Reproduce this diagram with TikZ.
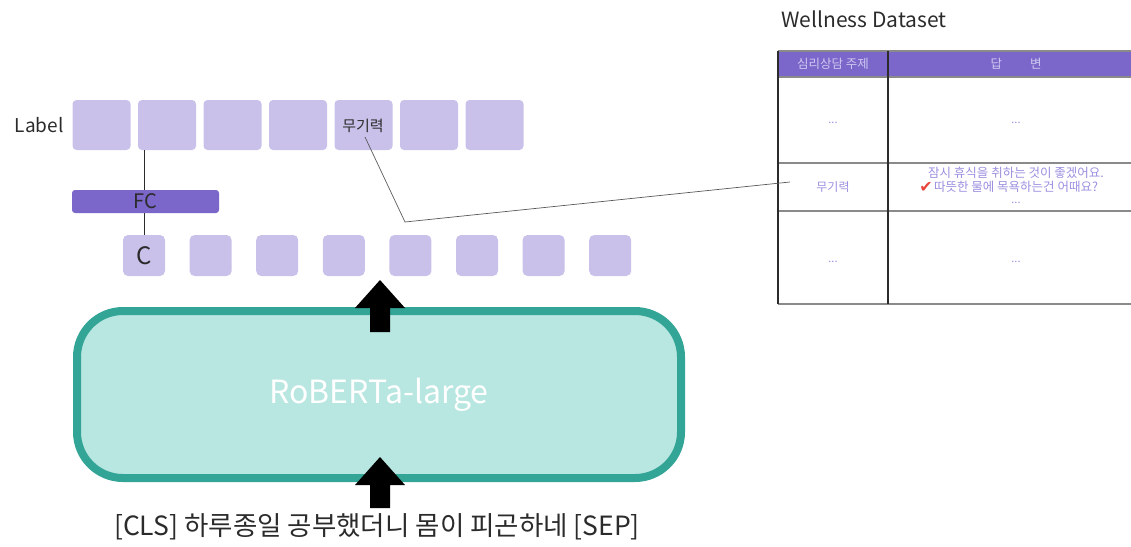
\documentclass[tikz,border=0pt]{standalone}
\usepackage{fontspec}
\setmainfont{Noto Sans CJK KR}
\newfontfamily\symfont{DejaVu Sans}
\definecolor{lav}{HTML}{C9C1EA}
\definecolor{fcpurple}{HTML}{7A67C9}
\definecolor{tealborder}{HTML}{33A597}
\definecolor{tealfill}{HTML}{B8E6E0}
\definecolor{cellink}{HTML}{9B8FE0}
\definecolor{headink}{HTML}{CFC8F2}
\definecolor{ink}{HTML}{2B2B2B}
\definecolor{gridgray}{HTML}{8A8A8A}
\definecolor{checkred}{HTML}{E8453C}
\tikzset{
  fs/.style={font=\fontsize{#1}{#1}\selectfont},
  labelbox/.style={fill=lav, rounded corners=4pt, minimum width=58pt, minimum height=50pt, inner sep=0pt},
  tokbox/.style={fill=lav, rounded corners=5pt, minimum width=42pt, minimum height=41pt, inner sep=0pt},
  bigarrow/.style={fill=black},
  cell/.style={text=cellink, fs=11, inner sep=0pt, align=center},
  link/.style={draw=gray!70!black, line width=0.7pt},
}
\begin{document}
\begin{tikzpicture}[x=1pt,y=-1pt]
\useasboundingbox (0,0) rectangle (1131,546);

% label row
\node[text=ink, fs=19, anchor=east] (lbl) at (67,125) {Label};
\foreach \i in {1,...,7} {
  \node[labelbox] (l\i) at ({101.5+65.5*(\i-1)},125) {};
}
\node[text=ink, fs=15] (lbltext) at (363,126) {무기력};

% token outputs
\foreach \i in {1,...,8} {
  \node[tokbox] (c\i) at ({144+66.6*(\i-1)},255.5) {};
}
\node[text=ink, fs=24] at (c1) {C};

% classifier head
\draw[line width=1pt, ink] (c1.north) -- (c1.north |- l2.south);
\node[fill=fcpurple, rounded corners=3pt, minimum width=147pt, minimum height=23pt, inner sep=0pt, text=ink, fs=20] (fc) at (145.5,201.5) {FC};

% encoder
\node[draw=tealborder, fill=tealfill, line width=8pt, rounded corners=46pt,
      minimum width=604pt, minimum height=167pt, inner sep=0pt,
      text=white, fs=32] (enc) at (379,394.5) {RoBERTa-large};

% input sentence
\node[text=ink, fs=26.5] (inp) at (377,527) {[CLS] 하루종일 공부했더니 몸이 피곤하네 [SEP]};

% thick arrows
\coordinate (tipA) at (380,280);
\coordinate (tipB) at (380,457);
\fill[bigarrow] (tipA) -- ++(25,28) -- ++(-15,0) -- ++(0,24) -- ++(-20,0) -- ++(0,-24) -- ++(-15,0) -- cycle;
\fill[bigarrow] (tipB) -- ++(25,28) -- ++(-15,0) -- ++(0,23) -- ++(-20,0) -- ++(0,-23) -- ++(-15,0) -- cycle;

% dataset table
\node[text=ink, fs=21, anchor=west] (title) at (778,19) {Wellness Dataset};
\fill[fcpurple] (778,51) rectangle (1131,77);
\draw[gridgray, line width=1.2pt] (778,51) -- (1131,51);
\draw[gridgray, line width=1.2pt] (778,77) -- (1131,77);
\draw[gridgray, line width=1.2pt] (778,163) -- (1131,163);
\draw[gridgray, line width=1.2pt] (778,211) -- (1131,211);
\draw[gridgray, line width=1.2pt] (778,304) -- (1131,304);
\draw[ink, line width=1.2pt] (778,51) -- (778,304);
\draw[ink, line width=1.8pt] (888,51) -- (888,304);
\node[text=headink, fs=12.5] (h1) at (833,64) {심리상담 주제};
\node[text=headink, fs=12.5] (h2) at (1016,64) {답\hspace{28pt}변};
\node[cell] (r1a) at (833,123) {...};
\node[cell] (r1b) at (1016,123) {...};
\node[cell, fs=12] (r2a) at (833,187) {무기력};
\node[cell, fs=12.5] (r2b1) at (1016,173) {잠시 휴식을 취하는 것이 좋겠어요.};
\node[cell, fs=12.5] (r2b2) at (1016,187) {따뜻한 물에 목욕하는건 어때요?};
\node[text=checkred, fs=16, anchor=east, inner sep=1pt] (chk) at (r2b2.west) {\symfont ✔};
\node[cell] (r2b3) at (1016,203) {...};
\node[cell] (r3a) at (833,262) {...};
\node[cell] (r3b) at (1016,262) {...};

% pointer from the predicted label into the table row
\coordinate (lkstart) at (365,137);
\coordinate (lkbend) at (405,222);
\coordinate (lkend) at (790,182);
\draw[link] (lkstart) -- (lkbend) -- (lkend);
\end{tikzpicture}
\end{document}
